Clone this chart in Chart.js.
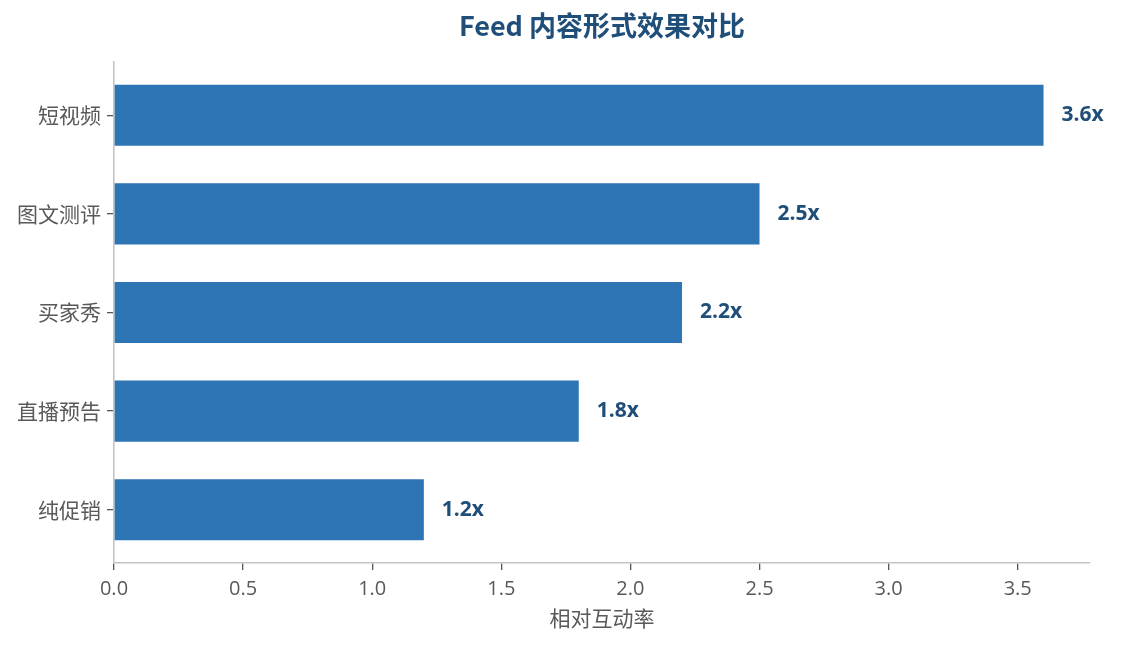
<!DOCTYPE html>
<html>
<head>
<meta charset="utf-8">
<script src="https://cdn.jsdelivr.net/npm/chart.js@4/dist/chart.umd.min.js"></script>
<style>
html,body{margin:0;padding:0;background:#fff;}
#wrap{width:1122px;height:645px;}
</style>
</head>
<body>
<div id="wrap"><canvas id="c" width="1122" height="645"></canvas></div>
<script>
const categories = ['短视频', '图文测评', '买家秀', '直播预告', '纯促销'];
const values = [3.6, 2.5, 2.2, 1.8, 1.2];
const valueLabels = ['3.6x', '2.5x', '2.2x', '1.8x', '1.2x'];
const xTicks = [0, 0.5, 1.0, 1.5, 2.0, 2.5, 3.0, 3.5];
const titleText = 'Feed 内容形式效果对比';
const xTitle = '相对互动率';

const FONT = '"Open Sans", "Noto Sans CJK SC", sans-serif';
const CJK = '"Noto Sans CJK SC", "Open Sans", sans-serif';

const points = values.map((v, i) => ({ x: v, y: i }));

const valueLabelPlugin = {
  id: 'valueLabels',
  afterDatasetsDraw(chart) {
    const ctx = chart.ctx;
    const meta = chart.getDatasetMeta(0);
    ctx.save();
    ctx.font = 'bold 21px ' + FONT;
    ctx.fillStyle = '#1f4e79';
    ctx.textAlign = 'left';
    ctx.textBaseline = 'middle';
    meta.data.forEach((bar, i) => {
      ctx.fillText(valueLabels[i], bar.x + 18, bar.y);
    });
    ctx.restore();
  }
};

new Chart(document.getElementById('c'), {
  type: 'bar',
  data: {
    datasets: [{
      data: points,
      backgroundColor: '#2e75b6',
      borderWidth: 0,
      barPercentage: 0.62,
      categoryPercentage: 1.0
    }]
  },
  options: {
    indexAxis: 'y',
    responsive: false,
    animation: false,
    devicePixelRatio: 1,
    layout: { padding: { left: 0, right: 32, top: 0, bottom: 0 } },
    plugins: {
      legend: { display: false },
      tooltip: { enabled: false },
      title: {
        display: true,
        fullSize: false,
        text: titleText,
        color: '#1f4e79',
        font: { family: CJK, size: 27, weight: 'bold', lineHeight: 1.2 },
        padding: { top: 10, bottom: 19.6 }
      }
    },
    scales: {
      x: {
        type: 'linear',
        min: 0,
        max: 3.78,
        afterBuildTicks(scale) {
          scale.ticks = xTicks.map(v => ({ value: v }));
        },
        afterFit(scale) {
          scale.height = 82;
          scale.paddingLeft = 0; scale.paddingRight = 0;
        },
        ticks: {
          color: '#595959',
          font: { family: FONT, size: 20 },
          padding: 7,
          maxRotation: 0,
          autoSkip: false,
          callback: (v) => Number(v).toFixed(1)
        },
        grid: {
          display: true,
          drawOnChartArea: false,
          drawTicks: true,
          tickLength: 7,
          color: '#555555',
          lineWidth: 1.3
        },
        border: { display: true, color: '#c4c4c4', width: 1.6 },
        title: {
          display: true,
          text: xTitle,
          color: '#595959',
          font: { family: CJK, size: 21 },
          padding: { top: 0, bottom: 14 }
        }
      },
      y: {
        type: 'linear',
        reverse: true,
        offset: false,
        min: -0.54,
        max: 4.54,
        afterBuildTicks(scale) {
          scale.ticks = categories.map((c, i) => ({ value: i }));
        },
        afterFit(scale) {
          scale.width = 114;
          scale.paddingTop = 0; scale.paddingBottom = 0;
        },
        ticks: {
          color: '#595959',
          font: { family: CJK, size: 21 },
          padding: 6,
          autoSkip: false,
          callback: (v) => categories[v]
        },
        grid: {
          display: true,
          offset: false,
          drawOnChartArea: false,
          drawTicks: true,
          tickLength: 7,
          color: '#555555',
          lineWidth: 1.3
        },
        border: { display: true, color: '#c4c4c4', width: 1.6 }
      }
    }
  },
  plugins: [valueLabelPlugin]
});
</script>
</body>
</html>
